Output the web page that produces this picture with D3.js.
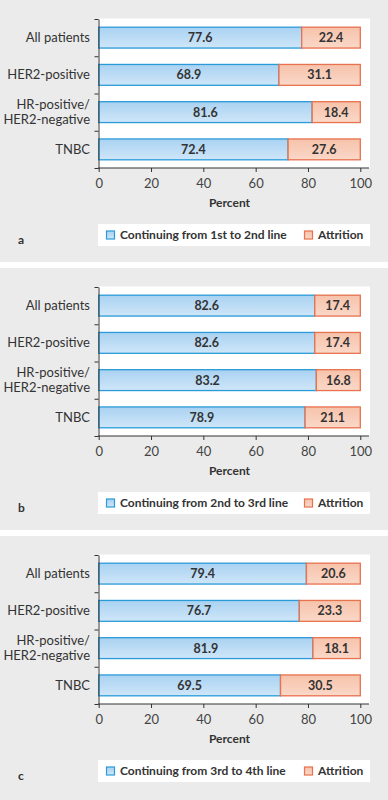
<!DOCTYPE html>
<html>
<head>
  <meta charset="utf-8">
  <title>Treatment line attrition</title>
  <script src="https://cdn.jsdelivr.net/npm/d3@7"></script>
  <style>
    body { margin: 0; background: #fff; }
    svg { display: block; font-family: Lato, "Noto Sans", sans-serif; }
  </style>
</head>
<body>
  <svg width="388" height="800" id="mainsvg"></svg>
  <script>
    // data
    const categories = ['All patients', 'HER2-positive', 'HR-positive/HER2-negative', 'TNBC'];
    const categoryLines = [['All patients'], ['HER2-positive'], ['HR-positive/', 'HER2-negative'], ['TNBC']];
    const panelLetters = ['a', 'b', 'c'];
    const continuingLabels = ['Continuing from 1st to 2nd line', 'Continuing from 2nd to 3rd line', 'Continuing from 3rd to 4th line'];
    const continuingA = [77.6, 68.9, 81.6, 72.4];
    const attritionA = [22.4, 31.1, 18.4, 27.6];
    const continuingB = [82.6, 82.6, 83.2, 78.9];
    const attritionB = [17.4, 17.4, 16.8, 21.1];
    const continuingC = [79.4, 76.7, 81.9, 69.5];
    const attritionC = [20.6, 23.3, 18.1, 30.5];
    const xTicks = [0, 20, 40, 60, 80, 100];
    const keys = ['continuing', 'attrition'];

    const panels = [
      { letter: panelLetters[0], label: continuingLabels[0], cont: continuingA, attr: attritionA },
      { letter: panelLetters[1], label: continuingLabels[1], cont: continuingB, attr: attritionB },
      { letter: panelLetters[2], label: continuingLabels[2], cont: continuingC, attr: attritionC }
    ];

    const svg = d3.select('#mainsvg');
    const panelStep = 268;
    const plot = { left: 98.5, right: 370, top: 18.5, bottom: 168 };

    // gradients for bars
    const defs = svg.append('defs');
    const grad = (id, stops) => {
      const lg = defs.append('linearGradient').attr('id', id)
        .attr('x1', 0).attr('y1', 0).attr('x2', 0).attr('y2', 1);
      stops.forEach(([o, c]) => lg.append('stop').attr('offset', o).attr('stop-color', c));
    };
    grad('gBlue', [[0, '#a9d2f1'], [0.5, '#bcdcf5'], [1, '#cfe6f8']]);
    grad('gOrange', [[0, '#f6c3ab'], [0.5, '#f8cdb9'], [1, '#fad8c8']]);
    const fill = { continuing: 'url(#gBlue)', attrition: 'url(#gOrange)' };
    const stroke = { continuing: '#2a9bd8', attrition: '#e8714e' };

    const x = d3.scaleLinear().domain([0, 100]).range([98.7, 360.3]);
    const yBand = d3.scaleBand().domain(categories).range([19, 168]).padding(0);
    const yEdge = d3.scaleLinear().domain([0, categories.length]).range([19, 168]);
    const barPad = 0.22;

    panels.forEach((p, i) => {
      const oy = i * panelStep;
      const g = svg.append('g').attr('transform', `translate(0, ${oy})`);

      g.append('rect').attr('x', 0).attr('y', 0).attr('width', 388)
        .attr('height', i === panels.length - 1 ? 264 : 262).attr('fill', '#ebebeb');
      g.append('rect').attr('x', 98).attr('y', plot.top)
        .attr('width', plot.right - 98).attr('height', plot.bottom - plot.top).attr('fill', '#fff');

      const rows = categories.map((c, j) => ({ category: c, continuing: p.cont[j], attrition: p.attr[j] }));
      const stack = d3.stack().keys(keys)(rows);

      const bw = yBand.bandwidth();
      g.selectAll('.series').data(stack).join('g')
        .attr('class', 'series')
        .selectAll('rect').data(d => d.map(v => ({ v, key: d.key }))).join('rect')
        .attr('x', d => x(d.v[0]))
        .attr('y', d => yBand(d.v.data.category) + bw * barPad)
        .attr('width', d => x(d.v[1]) - x(d.v[0]))
        .attr('height', bw * (1 - 2 * barPad))
        .attr('fill', d => fill[d.key])
        .attr('stroke', d => stroke[d.key])
        .attr('stroke-width', 1.3);

      g.selectAll('.series').selectAll('text').data(d => d).join('text')
        .attr('x', d => (x(d[0]) + x(d[1])) / 2)
        .attr('y', d => yBand(d.data.category) + bw / 2)
        .attr('dy', '0.36em')
        .attr('text-anchor', 'middle')
        .attr('font-size', 12.5).attr('font-weight', 'bold').attr('fill', '#333')
        .text(d => d3.format('.1f')(d[1] - d[0]));

      // y axis
      const yAxis = g.append('g').attr('transform', `translate(${plot.left}, 0)`)
        .call(d3.axisLeft(yEdge).ticks(categories.length).tickFormat('').tickSize(4).tickSizeOuter(0));
      yAxis.selectAll('line, path').attr('stroke', '#333');

      const lab = g.append('g').selectAll('text').data(categories).join('text')
        .attr('text-anchor', 'end').attr('x', 90)
        .attr('y', (c, j) => yBand(c) + bw / 2)
        .attr('font-size', 13).attr('fill', '#333');
      lab.each(function (c, j) {
        const lines = categoryLines[j];
        d3.select(this).selectAll('tspan').data(lines).join('tspan')
          .attr('x', 90)
          .attr('dy', (l, k) => k === 0 ? `${0.35 - (lines.length - 1) * 0.58}em` : '1.16em')
          .text(l => l);
      });

      // x axis
      const xAxis = g.append('g').attr('transform', `translate(0, ${plot.bottom})`)
        .call(d3.axisBottom(x).tickValues(xTicks).tickSize(4).tickSizeOuter(0));
      xAxis.select('.domain').remove();
      xAxis.append('line').attr('x1', 98).attr('x2', 369).attr('stroke', '#333');
      xAxis.selectAll('.tick line').attr('stroke', '#333');
      xAxis.selectAll('.tick text').attr('y', 20).attr('dy', 0)
        .attr('font-family', 'Lato, "Noto Sans", sans-serif').attr('font-size', 13).attr('fill', '#444');

      g.append('text').attr('x', (x(0) + x(100)) / 2).attr('y', 207)
        .attr('text-anchor', 'middle').attr('font-size', 12).attr('font-weight', 'bold').attr('fill', '#333')
        .text('Percent');

      // legend
      g.append('rect').attr('x', 98).attr('y', 224).attr('width', 272).attr('height', 22).attr('fill', '#fff');
      const legendItems = [
        { key: 'continuing', label: p.label, x: 106 },
        { key: 'attrition', label: 'Attrition', x: 304 }
      ];
      const li = g.selectAll('.legend').data(legendItems).join('g').attr('class', 'legend')
        .attr('transform', d => `translate(${d.x}, 235)`);
      li.append('rect').attr('x', 0.5).attr('y', -4).attr('width', 8).attr('height', 8)
        .attr('fill', d => fill[d.key]).attr('stroke', d => stroke[d.key]).attr('stroke-width', 1.2);
      li.append('text').attr('x', 14).attr('dy', '0.36em')
        .attr('font-size', 12).attr('font-weight', 'bold').attr('fill', '#333')
        .text(d => d.label);

      g.append('text').attr('x', 18).attr('y', 244)
        .attr('font-size', 12).attr('font-weight', 'bold').attr('fill', '#333')
        .text(p.letter);
    });
  </script>
</body>
</html>
